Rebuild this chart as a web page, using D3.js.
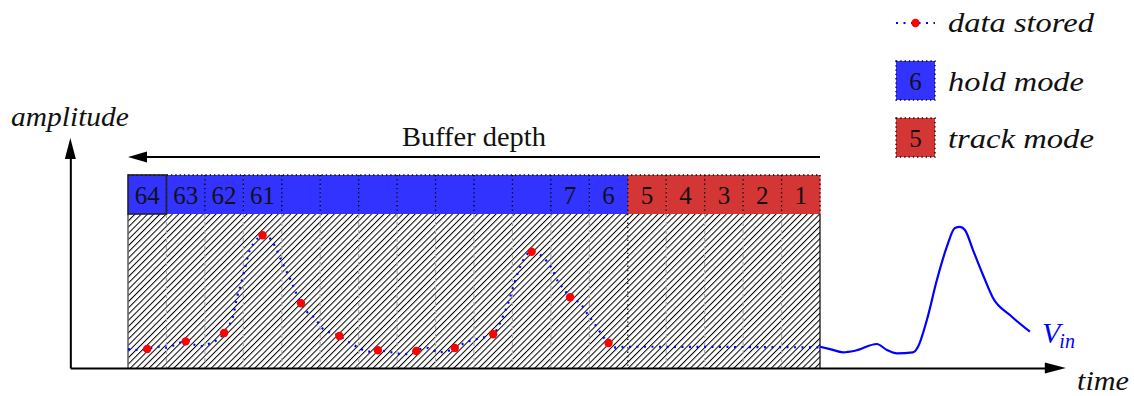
<!DOCTYPE html>
<html><head><meta charset="utf-8">
<script src="https://cdn.jsdelivr.net/npm/d3@7"></script>
<style>html,body{margin:0;padding:0;background:#fff;} svg{display:block;}</style>
</head><body>
<svg id="c" width="1134" height="396"></svg>
<script>
// ---------- data ----------
const cellLabels = ["64","63","62","61","","","","","","","","7","6","5","4","3","2","1"];
const cellModes  = ["hold","hold","hold","hold","hold","hold","hold","hold","hold","hold","hold","hold","hold",
                    "track","track","track","track","track"];
// stored samples (time in sample periods, amplitude normalised)
const storedT   = [0.5,1.5,2.5,3.5,4.5,5.5,6.5,7.5,8.5,9.5,10.5,11.5,12.5];
const storedAmp = [0.123,0.173,0.227,0.862,0.420,0.208,0.115,0.110,0.130,0.219,0.755,0.459,0.162];
// dotted trace of the signal already in the buffer
const traceT   = [0,0.23,0.5,0.78,0.98,1.17,1.5,1.69,1.9,2.07,2.26,2.5,2.61,2.73,2.84,2.93,3.03,3.17,3.3,3.5,3.69,3.87,4.04,4.21,4.34,4.5,4.65,4.86,5.04,5.21,5.5,5.73,6.03,6.25,6.5,6.77,6.99,7.16,7.5,7.73,7.9,8.07,8.25,8.5,8.77,8.98,9.16,9.5,9.63,9.78,9.89,10.02,10.15,10.28,10.5,10.8,11.02,11.19,11.32,11.5,11.76,11.97,12.19,12.36,12.5,12.71,12.97,18];
const traceAmp = [0.123,0.117,0.123,0.138,0.132,0.145,0.173,0.154,0.143,0.154,0.173,0.227,0.268,0.333,0.463,0.539,0.636,0.766,0.82,0.862,0.842,0.766,0.669,0.582,0.506,0.42,0.366,0.323,0.262,0.236,0.208,0.171,0.128,0.106,0.115,0.106,0.095,0.089,0.11,0.132,0.123,0.102,0.106,0.13,0.164,0.182,0.193,0.219,0.268,0.351,0.42,0.528,0.625,0.701,0.755,0.719,0.647,0.56,0.518,0.459,0.42,0.344,0.268,0.203,0.162,0.132,0.138,0.134];
// incoming signal V_in
const vinT   = [18,18.26,18.6,18.91,19.48,19.74,20.0,20.42,20.55,20.78,21.04,21.3,21.51,21.64,21.77,21.98,22.24,22.5,22.94,23.46];
const vinAmp = [0.138,0.123,0.102,0.112,0.156,0.117,0.095,0.102,0.138,0.312,0.571,0.788,0.909,0.916,0.896,0.766,0.604,0.455,0.344,0.236];
const legendLabels = ["data stored","hold mode","track mode"];
const legendCells  = ["6","5"];
const axisLabels = {x:"time", y:"amplitude"};
const bufferLabel = "Buffer depth";

// ---------- setup ----------
const FONT = '"Liberation Serif"';
const svg = d3.select("#c");
const HOLD = "#3333ff", TRACK = "#d43535", BLUE = "#0000ff";
const x = d3.scaleLinear().domain([0, 18]).range([128, 820]);
const y = d3.scaleLinear().domain([0, 1]).range([368, 214]);
const band = d3.scaleBand().domain(d3.range(cellLabels.length)).range(x.domain().map(x));
const modeColor = d3.scaleOrdinal().domain(["hold","track"]).range([HOLD, TRACK]);
const cellTop = 175, cellBot = y(1);
function txt(sel){ return sel.style("font-family", FONT); }
// stretch a text horizontally to a target width (anchor at its x)
function fitWidth(sel, target, anchorX){
  sel.each(function(){
    const w = this.getComputedTextLength();
    if (w > 0) {
      const s = target / w;
      d3.select(this).attr("transform", `translate(${anchorX(this)},0) scale(${s},1) translate(${-anchorX(this)},0)`);
    }
  });
}

const defs = svg.append("defs");
const pat = defs.append("pattern").attr("id","hatch").attr("patternUnits","userSpaceOnUse")
  .attr("width",4.4).attr("height",10).attr("patternTransform","rotate(45)");
pat.append("rect").attr("width",4.4).attr("height",10).attr("fill","#fff");
pat.append("rect").attr("x",0).attr("y",-1).attr("width",1.0).attr("height",12).attr("fill","#000");

// hatched buffer area
svg.append("rect").attr("x",x(0)).attr("y",y(1)).attr("width",x(18)-x(0)).attr("height",y(0)-y(1))
  .attr("fill","url(#hatch)");
const bounds = d3.range(1, cellLabels.length);
svg.append("g").selectAll("line").data(bounds).join("line")
  .attr("x1",i=>band(i)).attr("x2",i=>band(i)).attr("y1",y(1)).attr("y2",y(0))
  .attr("stroke",i=>cellModes[i]!==cellModes[i-1]?"#000":"#aaa")
  .attr("stroke-width",i=>cellModes[i]!==cellModes[i-1]?1.3:1.2)
  .attr("stroke-dasharray",i=>cellModes[i]!==cellModes[i-1]?"1.3,3":"4,4");
svg.append("line").attr("x1",x(0)).attr("x2",x(0)).attr("y1",y(1)).attr("y2",y(0))
  .attr("stroke","#666").attr("stroke-width",1.6);
svg.append("line").attr("x1",x(18)).attr("x2",x(18)).attr("y1",y(1)).attr("y2",y(0))
  .attr("stroke","#000").attr("stroke-width",1.2);

// buffer cells
const cells = svg.append("g");
cells.selectAll("rect").data(cellLabels).join("rect")
  .attr("x",(d,i)=>band(i)).attr("y",cellTop).attr("width",band.bandwidth()+0.5).attr("height",cellBot-cellTop)
  .attr("fill",(d,i)=>modeColor(cellModes[i]));
cells.selectAll("line.v").data(d3.range(1, cellLabels.length+1)).join("line").attr("class","v")
  .attr("x1",i=>band.range()[0]+i*band.bandwidth()).attr("x2",i=>band.range()[0]+i*band.bandwidth())
  .attr("y1",cellTop).attr("y2",cellBot)
  .attr("stroke","#000").attr("stroke-width",1.3).attr("stroke-dasharray","1.3,3");
cells.append("line").attr("x1",x(0)).attr("x2",x(18)).attr("y1",cellTop).attr("y2",cellTop)
  .attr("stroke","#000").attr("stroke-width",1.3).attr("stroke-dasharray","1.3,3");
cells.append("rect").attr("x",band(0)).attr("y",cellTop).attr("width",band.bandwidth()).attr("height",cellBot-cellTop)
  .attr("fill","none").attr("stroke","#222").attr("stroke-width",1.6);
txt(cells.selectAll("text").data(cellLabels).join("text"))
  .attr("x",(d,i)=>band(i)+band.bandwidth()/2).attr("y",204)
  .attr("text-anchor","middle").attr("font-size",25).attr("fill","#111")
  .text(d=>d);

// dotted trace + stored samples
const line = d3.line().x(d=>x(d[0])).y(d=>y(d[1])).curve(d3.curveMonotoneX);
svg.append("path").datum(d3.zip(traceT, traceAmp)).attr("d",line)
  .attr("fill","none").attr("stroke",BLUE).attr("stroke-width",2.2).attr("stroke-dasharray","2,5.5");
svg.append("g").selectAll("circle").data(d3.zip(storedT, storedAmp)).join("circle")
  .attr("cx",d=>x(d[0])).attr("cy",d=>y(d[1])).attr("r",4.2).attr("fill","#ff0000");

// V_in
svg.append("path").datum(d3.zip(vinT, vinAmp)).attr("d",line)
  .attr("fill","none").attr("stroke",BLUE).attr("stroke-width",2.2).attr("stroke-linejoin","round");
const vl = txt(svg.append("text")).attr("x",1042).attr("y",343)
  .style("font-style","italic").attr("fill",BLUE);
vl.append("tspan").attr("font-size",30).text("V");
vl.append("tspan").attr("font-size",20).attr("dx",-1).attr("dy",5).text("in");

// axes
const xAxisScale = d3.scaleLinear().domain([-1.5, 23.9]).range([x(-1.5), x(23.9)]);
svg.append("g").attr("transform",`translate(0,${y(0)})`)
  .call(d3.axisBottom(xAxisScale).tickValues([]).tickSizeOuter(0))
  .call(g=>g.select(".domain").attr("stroke","#000").attr("stroke-width",2));
const yAxisScale = d3.scaleLinear().domain([0, 1.37]).range([y(0), y(1.37)]);
svg.append("g").attr("transform",`translate(${x(-1.5)},0)`)
  .call(d3.axisLeft(yAxisScale).tickValues([]).tickSizeOuter(0))
  .call(g=>g.select(".domain").attr("stroke","#000").attr("stroke-width",2));
const xe = x(23.9), ye = y(1.37);
svg.append("path").attr("d",`M${xe-2},${y(0)-5.5} L${xe+19},${y(0)} L${xe-2},${y(0)+5.5} Z`).attr("fill","#000");
svg.append("path").attr("d",`M${x(-1.5)-5.5},${ye+2} L${x(-1.5)},${ye-19} L${x(-1.5)+5.5},${ye+2} Z`).attr("fill","#000");

// buffer depth arrow
svg.append("line").attr("x1",x(18)).attr("x2",x(0)+16).attr("y1",157).attr("y2",157)
  .attr("stroke","#000").attr("stroke-width",2);
svg.append("path").attr("d",`M${x(0)+19},151.5 L${x(0)},157 L${x(0)+19},162.5 Z`).attr("fill","#000");
const bt = txt(svg.append("text")).attr("x",402).attr("y",146)
  .attr("font-size",27).attr("fill","#111").text(bufferLabel);
fitWidth(bt, 144, ()=>402);

// axis labels
const at = txt(svg.append("text")).attr("x",11).attr("y",126).style("font-style","italic")
  .attr("font-size",28).attr("fill","#111").text(axisLabels.y);
fitWidth(at, 118, ()=>11);
const tt = txt(svg.append("text")).attr("x",1077).attr("y",390).style("font-style","italic")
  .attr("font-size",28).attr("fill","#111").text(axisLabels.x);
fitWidth(tt, 52, ()=>1077);

// legend
const lg = svg.append("g");
lg.append("line").attr("x1",896).attr("x2",935).attr("y1",23).attr("y2",23)
  .attr("stroke",BLUE).attr("stroke-width",2.2).attr("stroke-dasharray","2,5.5");
lg.append("circle").attr("cx",915.5).attr("cy",23).attr("r",4.2).attr("fill","#ff0000");
const boxY = [61, 118];
legendCells.forEach((t,k)=>{
  lg.append("rect").attr("x",896).attr("y",boxY[k]).attr("width",39).attr("height",39)
    .attr("fill",k===0?HOLD:TRACK).attr("stroke","#000").attr("stroke-width",1.3).attr("stroke-dasharray","1.3,3");
  txt(lg.append("text")).attr("x",915.5).attr("y",boxY[k]+29).attr("text-anchor","middle")
    .attr("font-size",25).attr("fill","#111").text(t);
});
const lgY = [32, 91, 148], lgW = [146, 136, 146];
const lt = txt(lg.selectAll("text.l").data(legendLabels).join("text").attr("class","l"))
  .attr("x",948).attr("y",(d,i)=>lgY[i]).style("font-style","italic")
  .attr("font-size",28).attr("fill","#111").text(d=>d);
lt.each(function(d,i){ fitWidth(d3.select(this), lgW[i], ()=>948); });
</script>
</body></html>
